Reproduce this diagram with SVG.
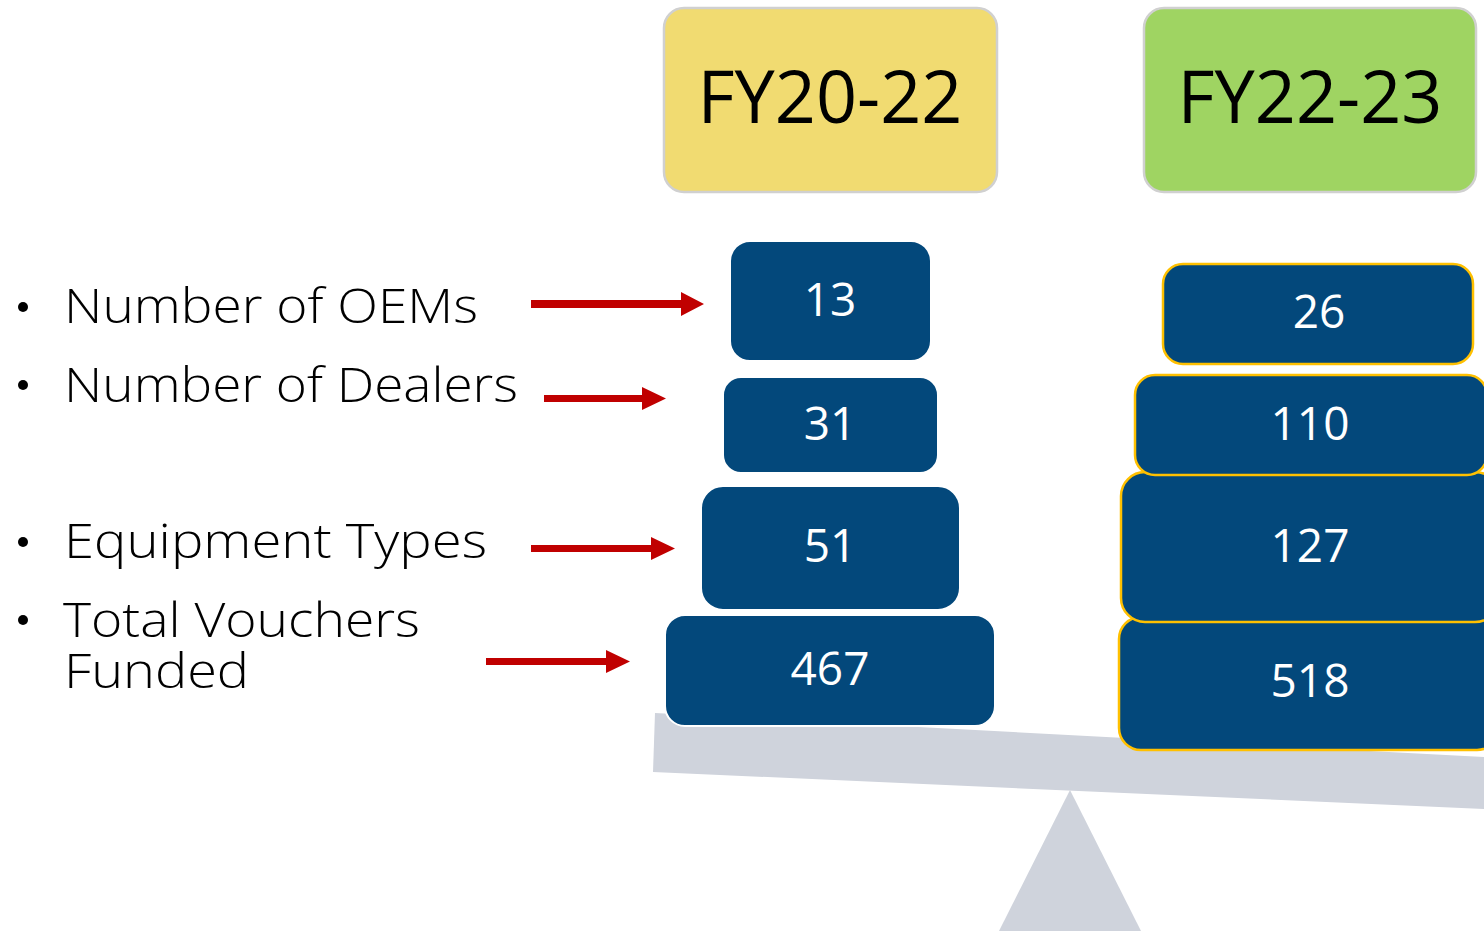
<svg xmlns="http://www.w3.org/2000/svg" width="1484" height="932" viewBox="0 0 1484 932">
  <defs>
    <style>
      .label { font-family: "Open Sans", "Liberation Sans", sans-serif; font-weight: 300; font-size: 48px; fill: #000; }
      .year { font-family: "Open Sans", "Liberation Sans", sans-serif; font-size: 74px; fill: #000; text-anchor: middle; }
      .num { font-family: "Open Sans", "Liberation Sans", sans-serif; font-size: 46px; fill: #fff; text-anchor: middle; }
      .blockL { fill: #03487B; stroke: #ffffff; stroke-width: 2; }
      .blockR { fill: #03487B; stroke: #FFC000; stroke-width: 2.5; }
      .scale { fill: #CFD3DC; }
      .arrow { fill: #C00000; }
      .dot { fill: #000; }
    </style>
  </defs>

  <rect width="1484" height="932" fill="#ffffff"/>

  <!-- seesaw -->
  <g id="seesaw">
    <polygon class="scale" points="999,931 1070,790 1141,931"/>
    <polygon class="scale" points="655,713 1484,757 1484,809 653,772"/>
  </g>

  <!-- period headers -->
  <g id="fy2022">
    <rect x="664" y="8" width="333" height="184" rx="20" fill="#F1DB71" stroke="#D0D0D0" stroke-width="2.5"/>
    <text class="year" x="830" y="123" textLength="265" lengthAdjust="spacingAndGlyphs">FY20-22</text>
  </g>
  <g id="fy2223">
    <rect x="1144" y="8" width="332" height="184" rx="20" fill="#9FD462" stroke="#D0D0D0" stroke-width="2.5"/>
    <text class="year" x="1310" y="123" textLength="265" lengthAdjust="spacingAndGlyphs">FY22-23</text>
  </g>

  <!-- FY20-22 stack -->
  <g id="l-oems">
    <rect class="blockL" x="730" y="241" width="201" height="120" rx="20"/>
    <text class="num" x="830" y="316">13</text>
  </g>
  <g id="l-dealers">
    <rect class="blockL" x="723" y="377" width="215" height="96" rx="18"/>
    <text class="num" x="830" y="440">31</text>
  </g>
  <g id="l-types">
    <rect class="blockL" x="701" y="486" width="259" height="124" rx="22"/>
    <text class="num" x="830" y="562">51</text>
  </g>
  <g id="l-vouchers">
    <rect class="blockL" x="665" y="615" width="330" height="111" rx="20"/>
    <text class="num" x="830" y="685">467</text>
  </g>

  <!-- FY22-23 stack (drawn bottom-up) -->
  <g id="r-vouchers">
    <rect class="blockR" x="1119" y="617" width="380" height="133" rx="22"/>
    <text class="num" x="1310" y="697">518</text>
  </g>
  <g id="r-types">
    <rect class="blockR" x="1121" y="472" width="378" height="150" rx="24"/>
    <text class="num" x="1310" y="562">127</text>
  </g>
  <g id="r-dealers">
    <rect class="blockR" x="1135" y="375" width="352" height="100" rx="20"/>
    <text class="num" x="1310" y="440">110</text>
  </g>
  <g id="r-oems">
    <rect class="blockR" x="1163" y="264" width="310" height="100" rx="20"/>
    <text class="num" x="1319" y="328">26</text>
  </g>

  <!-- metric labels -->
  <g id="labels">
    <circle class="dot" cx="23" cy="307" r="5"/>
    <text class="label" x="64" y="323" textLength="414" lengthAdjust="spacingAndGlyphs">Number of OEMs</text>
    <circle class="dot" cx="23" cy="385" r="5"/>
    <text class="label" x="64" y="402" textLength="454" lengthAdjust="spacingAndGlyphs">Number of Dealers</text>
    <circle class="dot" cx="23" cy="542" r="5"/>
    <text class="label" x="64" y="558" textLength="423" lengthAdjust="spacingAndGlyphs">Equipment Types</text>
    <circle class="dot" cx="23" cy="620" r="5"/>
    <text class="label" x="63" y="637" textLength="357" lengthAdjust="spacingAndGlyphs">Total Vouchers</text>
    <text class="label" x="64" y="688" textLength="185" lengthAdjust="spacingAndGlyphs">Funded</text>
  </g>

  <!-- pointer arrows -->
  <g id="connectors">
    <polygon class="arrow" points="531,300 681,300 681,292 704,304 681,316 681,308 531,308"/>
    <polygon class="arrow" points="544,395 642,395 642,387 666,398.5 642,410 642,402 544,402"/>
    <polygon class="arrow" points="531,545 651,545 651,537 675,548.5 651,560 651,552 531,552"/>
    <polygon class="arrow" points="486,658 606,658 606,650 630,661.5 606,673 606,665 486,665"/>
  </g>
</svg>
